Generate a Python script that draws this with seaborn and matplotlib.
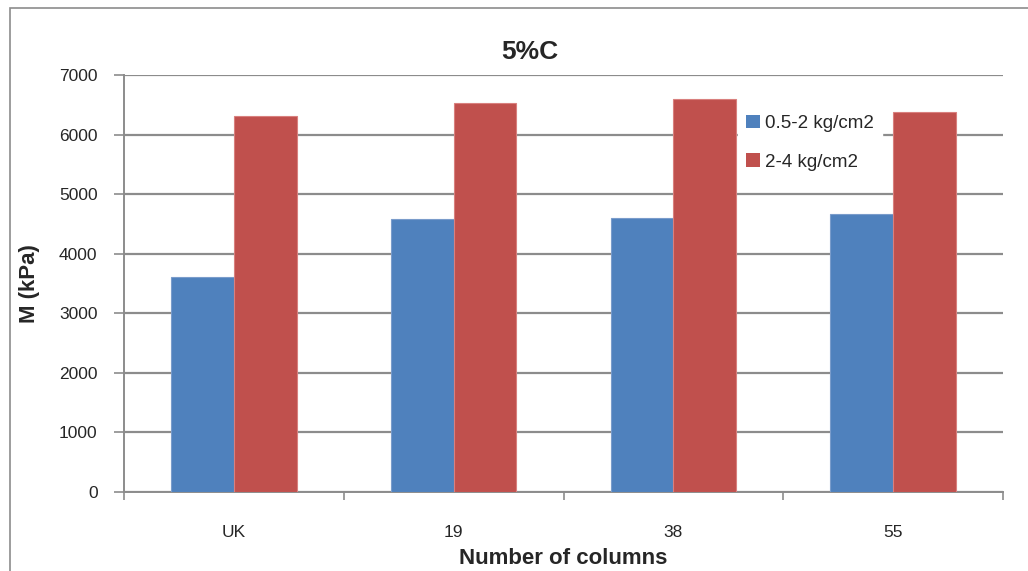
import matplotlib
matplotlib.use("Agg")
import matplotlib.pyplot as plt
import seaborn as sns
import pandas as pd
from matplotlib.patches import Rectangle
from matplotlib.ticker import FixedLocator

categories = ["UK", "19", "38", "55"]
series_names = ["0.5-2 kg/cm2", "2-4 kg/cm2"]
low_pressure = [3610, 4575, 4600, 4665]
high_pressure = [6320, 6530, 6595, 6375]
y_ticks = [0, 1000, 2000, 3000, 4000, 5000, 6000, 7000]

df = pd.DataFrame({
    "columns": categories * 2,
    "M": low_pressure + high_pressure,
    "range": [series_names[0]] * 4 + [series_names[1]] * 4,
})

sns.set_style("white")
plt.rcParams["font.family"] = ["Liberation Sans", "DejaVu Sans"]

W, H = 1028, 571
fig = plt.figure(figsize=(W / 100, H / 100), dpi=100)
ax = fig.add_axes([124 / W, 1 - 492 / H, (1003 - 124) / W, (492 - 75) / H])

palette = {series_names[0]: "#4F81BD", series_names[1]: "#C0504D"}
sns.barplot(data=df, x="columns", y="M", hue="range", order=categories,
            hue_order=series_names, palette=palette, width=0.57,
            saturation=1, ax=ax, legend=False, zorder=3)
edge = {series_names[0]: "#7A9CCB", series_names[1]: "#D9807E"}
for cont, name in zip(ax.containers, series_names):
    for bar in cont:
        bar.set_edgecolor(edge[name])
        bar.set_linewidth(0.8)

ax.set_xlim(-0.5, len(categories) - 0.5)
ax.set_ylim(0, 7000)
ax.set_yticks(y_ticks)
ax.set_yticklabels([str(v) for v in y_ticks], fontsize=12.5)
ax.yaxis.grid(True, color="#8C8C8C", linewidth=1.6, zorder=0)
ax.set_axisbelow(True)

# category boundary ticks on the x axis, labels centred without marks
ax.xaxis.set_minor_locator(FixedLocator([i - 0.5 for i in range(len(categories) + 1)]))
ax.tick_params(axis="x", which="major", length=0, pad=24, labelsize=12.5)
ax.tick_params(axis="x", which="minor", length=6, width=1.2, color="#8C8C8C", direction="out", bottom=True)
ax.tick_params(axis="y", which="major", length=7, width=1.2, color="#8C8C8C", direction="out", left=True, pad=12)

for side in ["top", "right"]:
    ax.spines[side].set_visible(False)
for side in ["left", "bottom"]:
    ax.spines[side].set_color("#8C8C8C")
    ax.spines[side].set_linewidth(1.4)

ax.set_xlabel("Number of columns", fontsize=16, fontweight="bold", va="center")
ax.xaxis.set_label_coords(0.5, (492 - 558) / (492 - 75))
ax.set_ylabel("M (kPa)", fontsize=16, fontweight="bold", va="center")
ax.yaxis.set_label_coords((30 - 124) / (1003 - 124), 0.5)
fig.text(530 / W, 1 - 52 / H, "5%C", fontsize=19, fontweight="bold",
         ha="center", va="center")

handles = [Rectangle((0, 0), 1, 1, facecolor=palette[n], edgecolor="none") for n in series_names]
leg = fig.legend(handles, series_names, loc="upper left",
                 bbox_to_anchor=(738 / W, 1 - 107 / H), frameon=True,
                 fontsize=13.5, handlelength=0.75, handleheight=0.75,
                 handletextpad=0.3, labelspacing=1.15, borderpad=0.4,
                 borderaxespad=0)
leg.get_frame().set_facecolor("white")
leg.get_frame().set_edgecolor("white")
leg.get_frame().set_alpha(1)

# outer chart frame
fig.patches.append(Rectangle((10 / W, -0.05), 1.2, 1 - 8 / H + 0.05,
                             transform=fig.transFigure, fill=False,
                             edgecolor="#8C8C8C", linewidth=1.2))

fig.savefig("out.png", dpi=100)
